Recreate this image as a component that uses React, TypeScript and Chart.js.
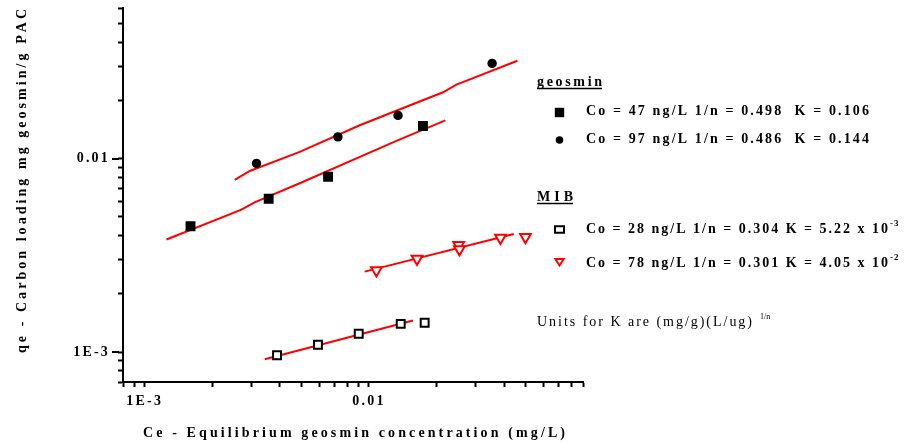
import React, { useEffect, useRef } from 'react';
import { Chart, registerables } from 'chart.js';

Chart.register(...registerables);

// ---- Data (mg/L vs mg/g) ----
const G47_X = [0.0016, 0.00357, 0.00657, 0.0174];
const G47_Y = [0.00447, 0.0062, 0.00807, 0.01475];
const G97_X = [0.00315, 0.00727, 0.01347, 0.0354];
const G97_Y = [0.00945, 0.01296, 0.01674, 0.0311];
const M28_X = [0.00389, 0.00592, 0.009, 0.01385, 0.01771];
const M28_Y = [0.000962, 0.001091, 0.001243, 0.001399, 0.001416];
const M78_X = [0.01079, 0.01637, 0.0251, 0.0253, 0.03856, 0.04985];
const M78_Y = [0.002649, 0.003038, 0.003572, 0.003395, 0.003894, 0.003927];

// fitted isotherm lines (as drawn)
const FIT47_X = [0.00125, 0.0027, 0.00309, 0.00491, 0.01325, 0.0219];
const FIT47_Y = [0.00382, 0.00545, 0.00594, 0.00746, 0.01236, 0.01578];
const FIT97_X = [0.00252, 0.00294, 0.00491, 0.00909, 0.02138, 0.02454, 0.0459];
const FIT97_Y = [0.00777, 0.00864, 0.01085, 0.01488, 0.02205, 0.02415, 0.0321];
const FIT28_X = [0.00343, 0.01571];
const FIT28_Y = [0.000917, 0.001455];
const FIT78_X = [0.00957, 0.0442];
const FIT78_Y = [0.002605, 0.00408];

// ---- Axes ----
const X_MIN = 0.0008;
const X_MAX = 0.09;
const Y_MIN = 0.0007;
const Y_MAX = 0.06;
const X_TICKS = [0.0008, 0.0009, 0.001, 0.002, 0.003, 0.004, 0.005, 0.006, 0.007, 0.008, 0.009, 0.01, 0.02, 0.03, 0.04, 0.05, 0.06, 0.07, 0.08, 0.09];
const Y_TICKS = [0.0007, 0.0008, 0.0009, 0.001, 0.002, 0.003, 0.004, 0.005, 0.006, 0.007, 0.008, 0.009, 0.01, 0.02, 0.03, 0.04, 0.05, 0.06];
const MAJOR_VALUES = [0.001, 0.01];
const MAJOR_LABELS = ['1E-3', '0.01'];

// ---- Texts ----
const X_TITLE = 'Ce - Equilibrium geosmin concentration (mg/L)';
const Y_TITLE = 'qe - Carbon loading mg geosmin/g PAC';
const LEGEND_HEADERS = ['geosmin', 'MIB'];
const LEGEND_TEXT = [
  'Co = 47 ng/L 1/n = 0.498  K = 0.106',
  'Co = 97 ng/L 1/n = 0.486  K = 0.144',
  'Co = 28 ng/L 1/n = 0.304 K = 5.22 x 10',
  'Co = 78 ng/L 1/n = 0.301 K = 4.05 x 10',
];
const LEGEND_EXP = ['', '', '-3', '-2'];
const UNITS_TEXT = 'Units for K are (mg/g)(L/ug)';
const UNITS_EXP = '1/n';

const SERIF = '"Liberation Serif", "Times New Roman", serif';
const RED = '#ff0000';

function zip(xs: number[], ys: number[]) {
  return xs.map((x, i) => ({ x, y: ys[i] }));
}

function tickLabel(v: number) {
  for (let i = 0; i < MAJOR_VALUES.length; i++) {
    if (Math.abs(Math.log10(v) - Math.log10(MAJOR_VALUES[i])) < 1e-6) return MAJOR_LABELS[i];
  }
  return '';
}

// spacing needed so that text spans `width`
function spacedWidth(ctx: CanvasRenderingContext2D, text: string, width: number) {
  const chars = Array.from(text);
  let w0 = 0;
  for (const c of chars) w0 += ctx.measureText(c).width;
  return chars.length > 1 ? (width - w0) / (chars.length - 1) : 0;
}
function drawChars(ctx: CanvasRenderingContext2D, text: string, x: number, y: number, spacing: number) {
  ctx.textAlign = 'left';
  let cx = x;
  for (const c of Array.from(text)) {
    ctx.fillText(c, cx, y);
    cx += ctx.measureText(c).width + spacing;
  }
  return cx - spacing;
}

const textPlugin = {
  id: 'isothermText',
  beforeDraw(chart: any) {
    (chart.ctx as any).letterSpacing = '2.2px';
  },
  beforeDatasetsDraw(chart: any) {
    (chart.ctx as any).letterSpacing = '0px';
  },
  afterDraw(chart: any) {
    const ctx: CanvasRenderingContext2D = chart.ctx;
    ctx.save();
    (ctx as any).letterSpacing = '0px';
    ctx.fillStyle = '#000';
    ctx.strokeStyle = '#000';
    ctx.textBaseline = 'alphabetic';

    // longer major ticks on y axis
    const ys = chart.scales.y;
    const left = chart.chartArea.left;
    ctx.lineWidth = 2;
    for (const v of MAJOR_VALUES) {
      const py = Math.round(ys.getPixelForValue(v));
      ctx.beginPath();
      ctx.moveTo(left - 11, py);
      ctx.lineTo(left - 4, py);
      ctx.stroke();
    }

    // axis titles
    ctx.font = `bold 14px ${SERIF}`;
    let s = spacedWidth(ctx, X_TITLE, 422);
    drawChars(ctx, X_TITLE, 143, 437, s);

    ctx.save();
    ctx.translate(25.5, 181);
    ctx.rotate(-Math.PI / 2);
    s = spacedWidth(ctx, Y_TITLE, 344);
    drawChars(ctx, Y_TITLE, -172, 0, s);
    ctx.restore();

    // legend headers
    const hx = 537;
    const headerY = [85.5, 200.5];
    const headerW = [65, 36];
    LEGEND_HEADERS.forEach((h, i) => {
      ctx.font = `bold 14px ${SERIF}`;
      const sp = spacedWidth(ctx, h, headerW[i]);
      const end = drawChars(ctx, h, hx, headerY[i], sp);
      ctx.lineWidth = 1.5;
      ctx.beginPath();
      ctx.moveTo(hx, headerY[i] + 3);
      ctx.lineTo(end, headerY[i] + 3);
      ctx.stroke();
    });

    // legend markers
    const mx = 559.5;
    const rowY = [110, 138, 228.5, 262];
    ctx.fillStyle = '#000';
    ctx.fillRect(mx - 4.7, rowY[0] + 2.5 - 4.7, 9.4, 9.4);
    ctx.beginPath();
    ctx.arc(mx, rowY[1] + 2, 3.8, 0, Math.PI * 2);
    ctx.fill();
    ctx.lineWidth = 2;
    ctx.strokeStyle = '#000';
    ctx.fillStyle = '#fff';
    ctx.beginPath();
    ctx.rect(mx - 4.5, rowY[2] + 1 - 3.2, 9, 6.4);
    ctx.fill();
    ctx.stroke();
    ctx.strokeStyle = RED;
    ctx.beginPath();
    ctx.moveTo(mx - 4.2, rowY[3] - 3);
    ctx.lineTo(mx + 4.2, rowY[3] - 3);
    ctx.lineTo(mx, rowY[3] + 3.5);
    ctx.closePath();
    ctx.fill();
    ctx.stroke();

    // legend texts
    ctx.fillStyle = '#000';
    const lineW = [283, 283, 302, 302];
    LEGEND_TEXT.forEach((t, i) => {
      ctx.font = `bold 14px ${SERIF}`;
      const lsp = spacedWidth(ctx, t, lineW[i]);
      const end = drawChars(ctx, t, 586, rowY[i] + 4.6, lsp);
      if (LEGEND_EXP[i]) {
        ctx.font = `bold 9px ${SERIF}`;
        drawChars(ctx, LEGEND_EXP[i], end + 2, rowY[i] - 2.5, 1);
      }
    });

    // units note
    ctx.font = `14px ${SERIF}`;
    const usp = spacedWidth(ctx, UNITS_TEXT, 215);
    const uend = drawChars(ctx, UNITS_TEXT, 537, 326, usp);
    ctx.font = `8px ${SERIF}`;
    drawChars(ctx, UNITS_EXP, uend + 8, 318.5, 0);

    ctx.restore();
  },
};

export default function App() {
  const ref = useRef<HTMLCanvasElement>(null);

  useEffect(() => {
    if (!ref.current) return;
    const tickFont = { family: SERIF, size: 14, weight: 'bold' as const };
    const chart = new Chart(ref.current, {
      type: 'scatter',
      data: {
        datasets: [
          { label: 'geosmin Co=47', data: zip(G47_X, G47_Y), pointStyle: 'rect', pointRadius: 7, backgroundColor: '#000', borderColor: '#000', borderWidth: 0, order: 0 } as any,
          { label: 'geosmin Co=97', data: zip(G97_X, G97_Y), pointStyle: 'circle', pointRadius: 4.7, backgroundColor: '#000', borderColor: '#000', borderWidth: 0, order: 0 } as any,
          { label: 'MIB Co=28', data: zip(M28_X, M28_Y), pointStyle: 'rect', pointRadius: 5.6, backgroundColor: '#fff', borderColor: '#000', borderWidth: 2, order: 0 } as any,
          { label: 'MIB Co=78', data: zip(M78_X, M78_Y), pointStyle: 'triangle', pointRotation: 180, pointRadius: 6.2, backgroundColor: '#fff', borderColor: RED, borderWidth: 2, order: 0 } as any,
          { label: 'fit 47', data: zip(FIT47_X, FIT47_Y), showLine: true, pointRadius: 0, borderColor: RED, borderWidth: 2, fill: false, order: 1 } as any,
          { label: 'fit 97', data: zip(FIT97_X, FIT97_Y), showLine: true, pointRadius: 0, borderColor: RED, borderWidth: 2, fill: false, order: 1 } as any,
          { label: 'fit 28', data: zip(FIT28_X, FIT28_Y), showLine: true, pointRadius: 0, borderColor: RED, borderWidth: 2, fill: false, order: 1 } as any,
          { label: 'fit 78', data: zip(FIT78_X, FIT78_Y), showLine: true, pointRadius: 0, borderColor: RED, borderWidth: 2, fill: false, order: 1 } as any,
        ],
      },
      options: {
        animation: false,
        responsive: false,
        maintainAspectRatio: false,
        layout: { padding: { left: 0, top: 6, right: 321, bottom: 0 } },
        plugins: { legend: { display: false }, tooltip: { enabled: false }, title: { display: false } },
        scales: {
          x: {
            type: 'logarithmic',
            position: 'bottom',
            min: X_MIN,
            max: X_MAX,
            afterBuildTicks: (s: any) => { s.ticks = X_TICKS.map((v) => ({ value: v })); },
            afterFit: (s: any) => { s.height = 62; s.paddingLeft = 0; s.paddingRight = 0; },
            grid: { drawOnChartArea: false, drawTicks: true, tickLength: 5, tickWidth: 2, tickColor: '#000' },
            border: { display: true, color: '#000', width: 2 },
            ticks: { autoSkip: false, maxRotation: 0, minRotation: 0, padding: 6, color: '#000', font: tickFont, callback: (v: any) => tickLabel(Number(v)) },
          },
          y: {
            type: 'logarithmic',
            position: 'left',
            min: Y_MIN,
            max: Y_MAX,
            afterBuildTicks: (s: any) => { s.ticks = Y_TICKS.map((v) => ({ value: v })); },
            afterFit: (s: any) => { s.width = 123; s.paddingTop = 0; s.paddingBottom = 0; },
            grid: { drawOnChartArea: false, drawTicks: true, tickLength: 5, tickWidth: 2, tickColor: '#000' },
            border: { display: true, color: '#000', width: 2 },
            ticks: { autoSkip: false, padding: 8, color: '#000', font: tickFont, callback: (v: any) => tickLabel(Number(v)) },
          },
        },
      } as any,
      plugins: [textPlugin as any],
    });
    return () => chart.destroy();
  }, []);

  return (
    <div style={{ position: 'absolute', left: 0, top: 0, width: 904, height: 444, background: '#fff' }}>
      <canvas ref={ref} width={904} height={444} style={{ display: 'block', width: 904, height: 444 }} />
    </div>
  );
}
